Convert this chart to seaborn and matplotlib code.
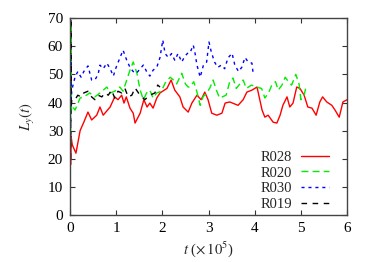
import numpy as np
import pandas as pd
import matplotlib
matplotlib.use("Agg")
import matplotlib.pyplot as plt
import seaborn as sns

# R028 (red, solid)
t_r028 = [0.02, 0.025, 0.05, 0.13, 0.22, 0.30, 0.39, 0.47, 0.58, 0.65, 0.72, 0.87, 0.97, 1.04, 1.12, 1.17,
          1.22, 1.30, 1.37, 1.41, 1.52, 1.60, 1.67, 1.73, 1.80, 1.88, 1.95, 2.10, 2.19, 2.27, 2.38, 2.45,
          2.56, 2.64, 2.75, 2.84, 2.92, 2.99, 3.07, 3.18, 3.29, 3.36, 3.46, 3.64, 3.75, 3.83, 3.94, 4.05,
          4.16, 4.22, 4.29, 4.40, 4.48, 4.55, 4.61, 4.70, 4.76, 4.83, 4.91, 4.98, 5.07, 5.15, 5.24, 5.33,
          5.41, 5.47, 5.56, 5.67, 5.74, 5.83, 5.91, 6.0]
y_r028 = [18, 28, 25, 22, 30, 33, 36.6, 33.8, 35.5, 38.4, 35.5, 38.4, 42, 41, 42.6, 39.8,
          42, 38, 36.2, 32.7, 36.2, 41, 38.4, 39.8, 38, 41.6, 43.4, 45, 48, 44.4, 42, 38.4,
          36.6, 39.8, 42.6, 41, 43.7, 41, 36.2, 35.5, 36.2, 39.8, 40.2, 39, 41, 43.7, 44.4, 45.5,
          37.3, 34.8, 35.5, 33, 32.7, 35.5, 39, 42, 38.4, 39.8, 45.5, 45, 42.6, 38.4, 38, 35.5,
          40.2, 42, 40.2, 39, 37.3, 34.8, 40.2, 41]

# R020 (green, dashed)
t_r020 = [0.015, 0.02, 0.025, 0.04, 0.11, 0.22, 0.30, 0.43, 0.54, 0.65, 0.80, 0.87, 0.97, 1.08, 1.15, 1.23,
          1.30, 1.37, 1.45, 1.52, 1.59, 1.66, 1.73, 1.80, 1.88, 1.98, 2.06, 2.17, 2.24, 2.31, 2.42, 2.50,
          2.56, 2.60, 2.68, 2.75, 2.82, 2.88, 2.96, 3.03, 3.10, 3.17, 3.24, 3.30, 3.38, 3.46, 3.53, 3.60,
          3.68, 3.75, 3.82, 3.93, 4.04, 4.15, 4.22, 4.30, 4.37, 4.45, 4.51, 4.59, 4.66, 4.73, 4.80, 4.89,
          4.96, 5.00, 5.07, 5.11]
y_r020 = [25, 68, 36, 39, 37.3, 41.6, 42, 43.4, 42, 43.4, 45.5, 43.4, 44, 45.5, 44, 48,
          51.5, 54.4, 50.4, 44.4, 41, 43.4, 44.4, 41.6, 43.4, 44, 46.9, 49, 48, 46.6, 50.4, 46.6,
          45.5, 45.5, 47.4, 43.7, 39, 42, 43.4, 45.2, 48, 44.4, 41.6, 42, 42.6, 47.4, 48.7, 45,
          46.6, 48, 45, 46.2, 45.5, 45, 41.6, 43.4, 46.2, 47.4, 44.4, 46.2, 49, 47.4, 46.2, 50,
          46.6, 41, 42.6, 45.5]

# R030 (blue, short dashes)
t_r030 = [0.015, 0.02, 0.025, 0.04, 0.11, 0.17, 0.24, 0.30, 0.39, 0.47, 0.54, 0.61, 0.65, 0.72, 0.80, 0.87,
          0.94, 1.00, 1.08, 1.15, 1.23, 1.30, 1.37, 1.44, 1.52, 1.59, 1.66, 1.73, 1.80, 1.88, 1.95, 2.01,
          2.06, 2.13, 2.20, 2.27, 2.34, 2.42, 2.49, 2.56, 2.60, 2.67, 2.71, 2.75, 2.82, 2.89, 2.96, 3.01,
          3.06, 3.13, 3.20, 3.28, 3.35, 3.42, 3.51, 3.57, 3.65, 3.72, 3.79, 3.86, 3.94, 3.97]
y_r030 = [26, 55, 40, 44.4, 49, 51, 49, 51, 53, 48, 48, 50, 53.3, 52, 54, 52,
          49.4, 52.5, 55.8, 58.6, 55, 52.5, 51, 50.4, 52, 53.3, 51, 49.4, 51.5, 52.5, 56, 62.2,
          57.4, 56, 57.4, 55, 57.4, 54.4, 56.5, 57.7, 57.7, 60.4, 57.4, 53.3, 49, 53.3, 54.4, 61.5,
          58, 54.4, 52.5, 53.3, 52, 55.8, 57.5, 53.3, 51, 52.5, 56, 54.4, 54, 49.8]

# R019 (black, dashed)
t_r019 = [0.015, 0.02, 0.025, 0.04, 0.11, 0.17, 0.24, 0.30, 0.39, 0.47, 0.54, 0.61, 0.69, 0.76, 0.83, 0.90,
          0.97, 1.04, 1.12, 1.19, 1.26, 1.34, 1.41, 1.50, 1.56, 1.62, 1.73, 1.84, 1.90, 1.95]
y_r019 = [20, 70, 38, 41, 41, 42.6, 42, 43.4, 44, 42, 41, 42.6, 42, 43.4, 42.6, 44.4,
          41.6, 44, 43.4, 45, 42, 42.6, 45.2, 43, 42, 41, 42.6, 43.4, 46.2, 45.5]

series = ["R028", "R020", "R030", "R019"]
colors = {"R028": "#ff0000", "R020": "#00ee00", "R030": "#0000ff", "R019": "#000000"}
dashes = {"R028": "", "R020": (5, 3), "R030": (2.2, 2.8), "R019": (4, 4)}

frames = []
for name, tt, yy in [("R028", t_r028, y_r028), ("R020", t_r020, y_r020),
                     ("R030", t_r030, y_r030), ("R019", t_r019, y_r019)]:
    frames.append(pd.DataFrame({"t": tt, "L": yy, "run": name}))
df = pd.concat(frames, ignore_index=True)

sns.set_style("ticks")
plt.rcParams["font.family"] = ["Liberation Serif", "DejaVu Serif"]
plt.rcParams["mathtext.fontset"] = "stix"

fig = plt.figure(figsize=(3.74, 2.62), dpi=100)
ax = fig.add_axes([0.187, 0.179, 0.741, 0.752])

sns.lineplot(data=df, x="t", y="L", hue="run", style="run", hue_order=series, style_order=series,
             palette=colors, dashes=dashes, linewidth=1.0, sort=False, estimator=None, ax=ax)

ax.set_xlim(0, 6)
ax.set_ylim(0, 70)
ax.set_xticks(range(0, 7))
ax.set_yticks(range(0, 71, 10))
ax.tick_params(direction="in", top=True, right=True, length=3.5, width=0.8, labelsize=11,
               colors="#333333", labelcolor="black", pad=5)
for s in ax.spines.values():
    s.set_color("#444444")
    s.set_linewidth(1.0)

ax.set_xlabel(r"$t$ ($\times\, 10^5$)", fontsize=10.5, labelpad=3)
ax.set_ylabel(r"$L_y(t)$", fontsize=10.5, labelpad=8)

leg = ax.legend(loc="lower right", frameon=False, markerfirst=False, fontsize=10.5,
                handlelength=1.9, labelspacing=0.18, handletextpad=0.6,
                borderaxespad=0.0, bbox_to_anchor=(0.955, -0.01))

fig.savefig("out.png", dpi=100)
